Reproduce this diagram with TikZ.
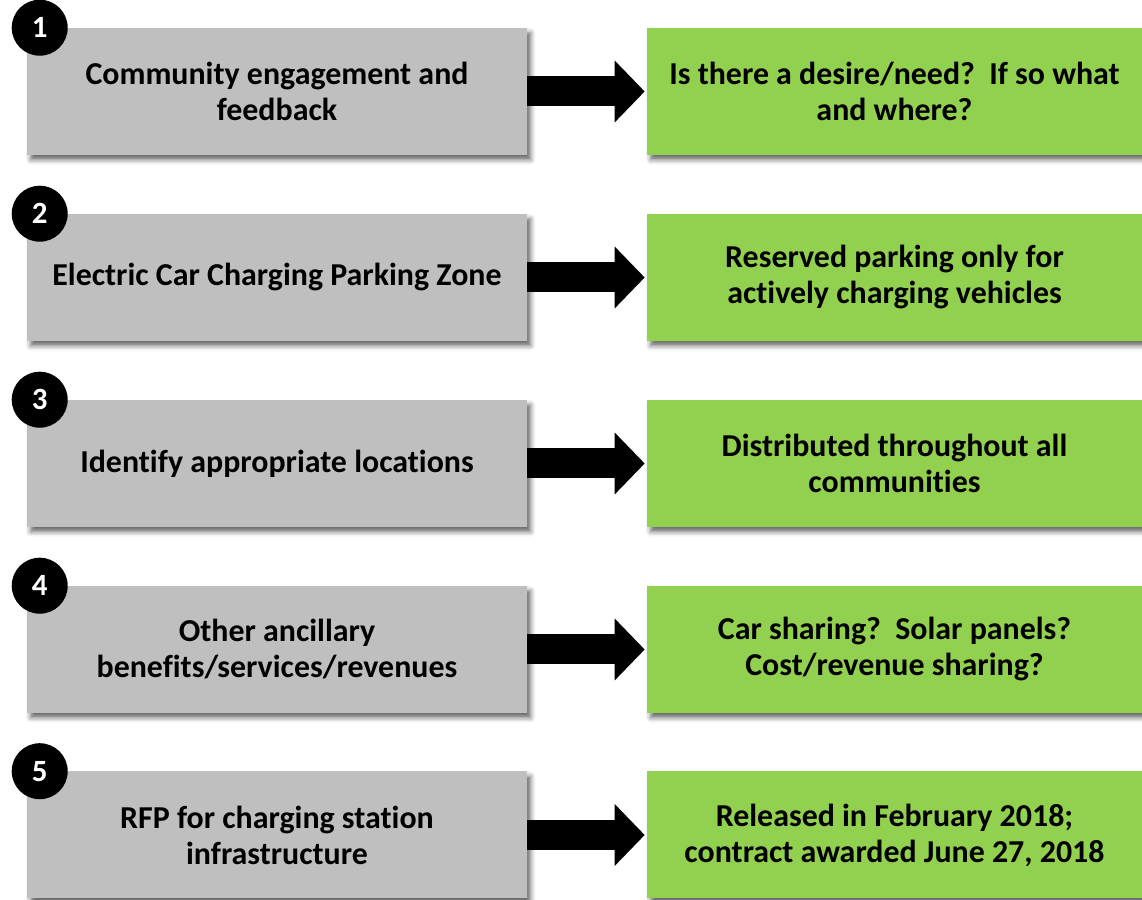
\documentclass[tikz,border=0pt]{standalone}
\usepackage{fontspec}
\setmainfont{Carlito}[Ligatures=NoCommon, Contextuals=NoAlternate]
\usetikzlibrary{arrows.meta, shadows.blur}

\definecolor{taskgray}{HTML}{BFBFBF}
\definecolor{outcomegreen}{HTML}{92D050}

\begin{document}
\begin{tikzpicture}[
  task/.style={fill=taskgray, minimum width=12.5cm, minimum height=3.175cm, align=center, inner sep=0pt, font=\fontsize{22.7}{25.6}\selectfont\bfseries, blur shadow={shadow xshift=0.09cm, shadow yshift=-0.12cm, shadow blur radius=0.12cm, shadow opacity=60}},
  outcome/.style={task, fill=outcomegreen, minimum width=12.375cm},
  badge/.style={circle, fill=black, text=white, minimum size=1.4cm, inner sep=0pt, font=\fontsize{22}{24}\selectfont\bfseries},
  flow/.style={-{Triangle[length=0.75cm, width=1.5cm]}, line width=0.75cm, shorten >=0.05cm}
]
\useasboundingbox (0,0) rectangle (28.55,22.5);

% left column: steps
\node[task] (engageTask) at (6.925,20.2125) {Community engagement and\\feedback};
\node[task] (zoneTask) at (6.925,15.5625) {Electric Car Charging Parking Zone};
\node[task] (locationTask) at (6.925,10.9125) {Identify appropriate locations};
\node[task] (benefitTask) at (6.925,6.2625) {Other ancillary\\benefits/services/revenues};
\node[task] (rfpTask) at (6.925,1.625) {RFP for charging station\\infrastructure};

% right column: outcomes
\node[outcome] (engageResult) at (22.3625,20.2125) {Is there a desire/need?~~If so what\\and where?};
\node[outcome] (zoneResult) at (22.3625,15.5625) {Reserved parking only for\\actively charging vehicles};
\node[outcome] (locationResult) at (22.3625,10.9125) {Distributed throughout all\\communities};
\node[outcome] (benefitResult) at (22.3625,6.2625) {Car sharing?~~Solar panels?\\Cost/revenue sharing?};
\node[outcome] (rfpResult) at (22.3625,1.625) {Released in February 2018;\\contract awarded June 27, 2018};

% numbered badges
\node[badge] (engageNum) at ([xshift=0.325cm]engageTask.north west) {1};
\node[badge] (zoneNum) at ([xshift=0.325cm]zoneTask.north west) {2};
\node[badge] (locationNum) at ([xshift=0.325cm]locationTask.north west) {3};
\node[badge] (benefitNum) at ([xshift=0.325cm]benefitTask.north west) {4};
\node[badge] (rfpNum) at ([xshift=0.325cm]rfpTask.north west) {5};

\draw[flow] (engageTask.east) -- (engageResult.west);
\draw[flow] (zoneTask.east) -- (zoneResult.west);
\draw[flow] (locationTask.east) -- (locationResult.west);
\draw[flow] (benefitTask.east) -- (benefitResult.west);
\draw[flow] (rfpTask.east) -- (rfpResult.west);
\end{tikzpicture}
\end{document}
